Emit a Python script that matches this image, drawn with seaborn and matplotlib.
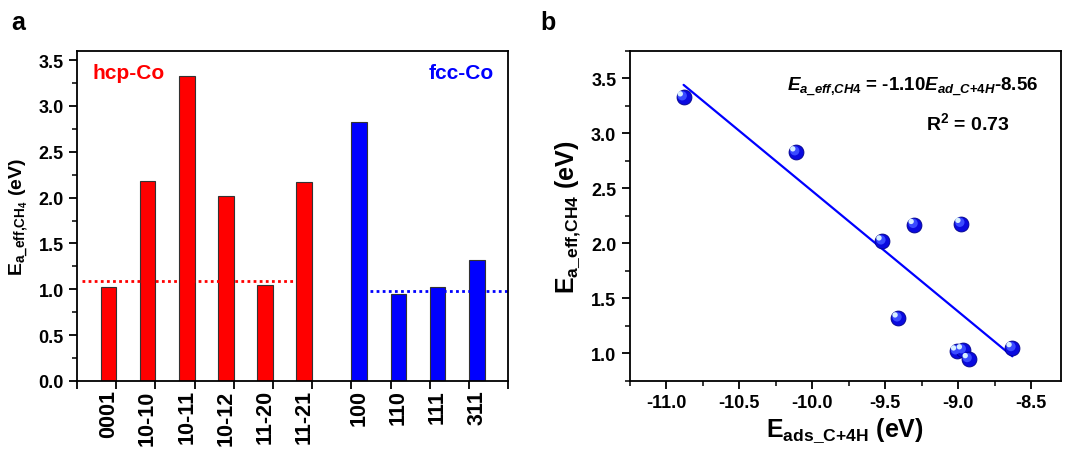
import matplotlib
matplotlib.use("Agg")
import matplotlib.pyplot as plt
import matplotlib.transforms as mtransforms
from matplotlib.ticker import MultipleLocator, FormatStrFormatter
import numpy as np
import pandas as pd
import seaborn as sns

# bar data (panel a)
hcp_facets = ["0001", "10-10", "10-11", "10-12", "11-20", "11-21"]
hcp_ea = [1.02, 2.18, 3.33, 2.02, 1.05, 2.17]
fcc_facets = ["100", "110", "111", "311"]
fcc_ea = [2.83, 0.95, 1.03, 1.32]
hcp_avg = 1.09
fcc_avg = 0.98

# scatter data (panel b)
ads_c4h = [-10.88, -10.11, -9.52, -9.30, -8.98, -9.41, -9.01, -8.97, -8.93, -8.63]
ea_eff = [3.33, 2.83, 2.02, 2.17, 2.18, 1.32, 1.02, 1.03, 0.95, 1.05]

sns.set_style("ticks")
plt.rcParams["font.family"] = ["Liberation Sans", "DejaVu Sans"]
plt.rcParams["font.weight"] = "bold"
plt.rcParams["axes.labelweight"] = "bold"
plt.rcParams["mathtext.fontset"] = "custom"
plt.rcParams["mathtext.rm"] = "Liberation Sans:bold"
plt.rcParams["mathtext.bf"] = "Liberation Sans:bold"
plt.rcParams["mathtext.it"] = "Liberation Sans:bold:italic"
plt.rcParams["axes.linewidth"] = 1.3
plt.rcParams["axes.edgecolor"] = "black"
for key in ["text.color", "axes.labelcolor", "xtick.color", "ytick.color"]:
    plt.rcParams[key] = "black"

fig = plt.figure(figsize=(10.67, 4.52), dpi=100)
ax = fig.add_axes([0.0722, 0.155, 0.404, 0.730])
axb = fig.add_axes([0.590, 0.155, 0.404, 0.730])

# ---- panel a ----
hcp_pos = np.arange(1, len(hcp_ea) + 1) - 0.2
fcc_pos = np.arange(len(hcp_ea) + 1, len(hcp_ea) + len(fcc_ea) + 1) + 0.2
df = pd.DataFrame({
    "pos": np.round(np.concatenate([hcp_pos, fcc_pos]), 3),
    "ea": hcp_ea + fcc_ea,
    "phase": ["hcp"] * len(hcp_ea) + ["fcc"] * len(fcc_ea),
})
sns.barplot(data=df, x="pos", y="ea", hue="phase", native_scale=True, width=0.4,
            dodge=False, legend=False, palette={"hcp": "#FF0000", "fcc": "#0000FF"},
            saturation=1, edgecolor="#333333", linewidth=0.8, ax=ax)

n_tot = len(hcp_ea) + len(fcc_ea) + 1
ax.set_xlim(0, n_tot)
ax.set_ylim(0, 3.6)
ax.set_xticks(range(n_tot + 1), labels=[""] * (n_tot + 1))
ax.set_xticks(df["pos"], labels=hcp_facets + fcc_facets, minor=True)
ax.tick_params(axis="x", which="major", direction="out", length=6, width=1.3)
ax.tick_params(axis="x", which="minor", length=0, pad=6, labelrotation=90, labelsize=15.5)
ax.yaxis.set_major_locator(MultipleLocator(0.5))
ax.yaxis.set_minor_locator(MultipleLocator(0.25))
ax.yaxis.set_major_formatter(FormatStrFormatter("%.1f"))
ax.tick_params(axis="y", which="major", direction="out", length=6, width=1.3, labelsize=13)
ax.tick_params(axis="y", which="minor", direction="out", length=3.5, width=1.1)
ax.set_xlabel("")
ax.set_ylabel(r"E$_{\mathbf{a\_eff{,}CH_4}}$ (eV)", fontsize=14, labelpad=6)

ax.axhline(hcp_avg, xmin=0.012, xmax=0.50, color="#FF0000", lw=2, ls=(0, (1, 1.2)))
ax.axhline(fcc_avg, xmin=0.68, xmax=1.0, color="#0000FF", lw=2, ls=(0, (1, 1.2)))
ax.text(0.035, 0.918, "hcp-Co", color="#FF0000", fontsize=15, transform=ax.transAxes,
        ha="left", va="baseline")
ax.text(0.968, 0.918, "fcc-Co", color="#0000FF", fontsize=15, transform=ax.transAxes,
        ha="right", va="baseline")

# ---- panel b ----
sns.regplot(x=ads_c4h, y=ea_eff, ci=None, scatter=False, truncate=True,
            color="#0000FF", line_kws={"lw": 1.6}, ax=axb)
sns.scatterplot(x=ads_c4h, y=ea_eff, s=115, color="#0A0ADF", edgecolor="#000088",
                linewidth=0.6, ax=axb, zorder=3)
sns.scatterplot(x=ads_c4h, y=ea_eff, s=45, color="#3A4BFF", edgecolor="none",
                ax=axb, zorder=4)
mid = axb.collections[-1]
mid.set_offset_transform(axb.transData + mtransforms.ScaledTranslation(
    -1.0 / 72, 1.0 / 72, fig.dpi_scale_trans))
sns.scatterplot(x=ads_c4h, y=ea_eff, s=15, color="#D8F0FF", edgecolor="none",
                ax=axb, zorder=5)
hl = axb.collections[-1]
hl.set_offset_transform(axb.transData + mtransforms.ScaledTranslation(
    -2.4 / 72, 2.4 / 72, fig.dpi_scale_trans))

axb.set_xlim(-11.25, -8.3)
axb.set_ylim(0.75, 3.75)
axb.xaxis.set_major_locator(MultipleLocator(0.5))
axb.xaxis.set_minor_locator(MultipleLocator(0.25))
axb.yaxis.set_major_locator(MultipleLocator(0.5))
axb.yaxis.set_minor_locator(MultipleLocator(0.25))
axb.xaxis.set_major_formatter(FormatStrFormatter("%.1f"))
axb.yaxis.set_major_formatter(FormatStrFormatter("%.1f"))
axb.tick_params(which="major", direction="out", length=6, width=1.3, labelsize=13)
axb.tick_params(which="minor", direction="out", length=3.5, width=1.1)
axb.set_xlabel(r"E$_{\mathbf{ads\_C{+}4H}}$ (eV)", fontsize=18, labelpad=3)
axb.set_ylabel(r"E$_{\mathbf{a\_eff{,}CH4}}$ (eV)", fontsize=18, labelpad=6)

axb.text(0.365, 0.893,
         r"$\mathit{E}_{\mathit{a\_eff{,}CH4}}$ = -1.10$\mathit{E}_{\mathit{ad\_C{+}4H}}$-8.56",
         fontsize=13.5, transform=axb.transAxes, ha="left", va="center")
axb.text(0.687, 0.785, r"R$^{\mathbf{2}}$ = 0.73", fontsize=14,
         transform=axb.transAxes, ha="left", va="center")

fig.text(0.011, 0.934, "a", fontsize=18, fontweight="bold", va="baseline")
fig.text(0.506, 0.934, "b", fontsize=18, fontweight="bold", va="baseline")

fig.savefig("out.png", dpi=100)
